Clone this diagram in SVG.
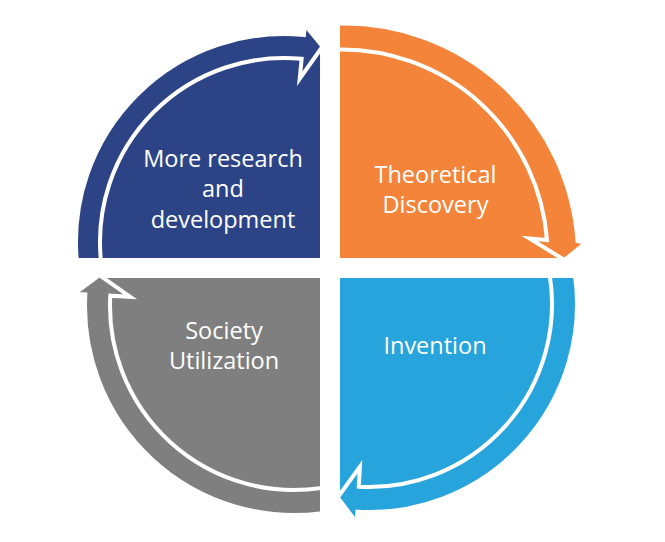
<svg xmlns="http://www.w3.org/2000/svg" width="665" height="542" viewBox="0 0 665 542">
  <style>
    .label { font-family: "Open Sans", "Noto Sans", "Liberation Sans", sans-serif; font-size: 23.5px; fill: #FFFFFF; text-anchor: middle; }
    .arrow { stroke: #FFFFFF; stroke-width: 4; stroke-linejoin: miter; stroke-miterlimit: 10; }
    .navy { fill: #2C4486; }
    .orange { fill: #F3843A; }
    .sky { fill: #28A4DC; }
    .grey { fill: #7F7F7F; }
  </style>
  <rect width="665" height="542" fill="#FFFFFF"/>

  <!-- quadrant: research & development (top-left) -->
  <g id="research">
    <path class="navy" d="M320,258 L82.63,258 A202,202 0 0 1 320,43.2 Z"/>
    <text class="label" x="223" y="167">More research</text>
    <text class="label" x="223" y="197">and</text>
    <text class="label" x="223" y="227.5">development</text>
  </g>

  <!-- quadrant: theoretical discovery (top-right) -->
  <g id="discovery">
    <path class="orange" d="M340,258 L340,34 A225,225 0 0 1 567,258 Z"/>
    <text class="label" x="435.5" y="182.5">Theoretical</text>
    <text class="label" x="435.5" y="213">Discovery</text>
  </g>

  <!-- quadrant: invention (bottom-right) -->
  <g id="invention">
    <path class="sky" d="M340,278 L565.29,278 A198,198 0 0 1 340,499.87 Z"/>
    <text class="label" x="435" y="354">Invention</text>
  </g>

  <!-- quadrant: society utilization (bottom-left) -->
  <g id="utilization">
    <path class="grey" d="M320,278 L320,503.3 A199,199 0 0 1 95.97,278 Z"/>
    <text class="label" x="224" y="339">Society</text>
    <text class="label" x="224" y="369">Utilization</text>
  </g>

  <!-- clockwise cycle arrows, one per quadrant rim -->
  <g id="connectors">
    <path class="arrow navy" d="M76.78,260 A208,208 0 0 1 303.94,34.96 L304.9,25 L322.5,46.5 L299.72,78.75 L301.64,58.85 A184,184 0 0 0 100.88,260 Z"/>
    <path class="arrow orange" d="M338,23.7 A234,234 0 0 1 577.5,241 L586,242.5 L564.5,260 L529.5,238.5 L547,240 A206,206 0 0 0 338,49.5 Z"/>
    <path class="arrow sky" d="M575.11,276 A208,208 0 0 1 357.39,511.68 L356.78,522.66 L337.66,497.48 L359.9,466.75 L358.78,486.71 A183,183 0 0 0 549.85,276 Z"/>
    <path class="arrow grey" d="M322,513.12 A209,209 0 0 1 85.33,294.33 L74.34,293.72 L99.43,275.18 L130.26,296.85 L110.29,295.73 A184,184 0 0 0 322,487.86 Z"/>
  </g>
</svg>
